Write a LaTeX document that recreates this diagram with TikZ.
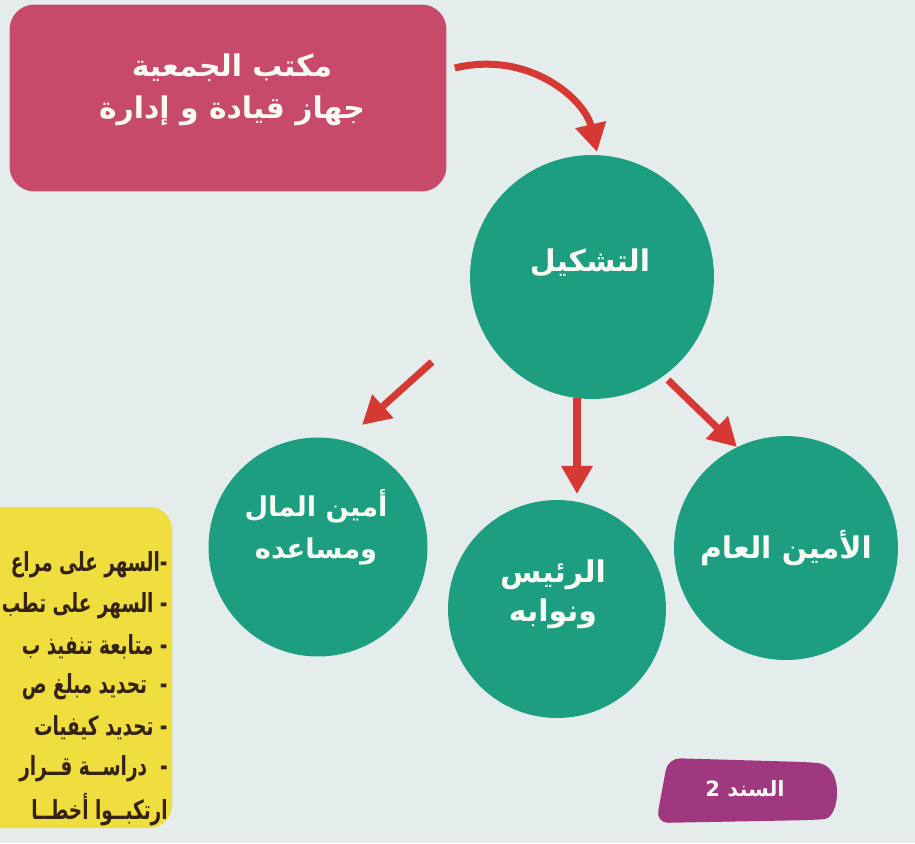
\documentclass[tikz,border=0pt]{standalone}
\usepackage{fontspec}
\usepackage{xcolor}
\usetikzlibrary{arrows.meta}
\TeXXeTstate=1
\newfontfamily\arabicfont[Script=Arabic]{DejaVu Sans}
\definecolor{fon}{RGB}{228,237,235}
\definecolor{rose}{RGB}{199,74,107}
\definecolor{zelen}{RGB}{30,158,128}
\definecolor{krasn}{RGB}{214,56,52}
\definecolor{zhelt}{RGB}{240,222,62}
\definecolor{tagc}{RGB}{160,56,128}
\definecolor{belyj}{RGB}{246,250,242}
\definecolor{tekst}{RGB}{52,34,22}
\newcommand{\uzko}[1]{\scalebox{0.7}[1]{\beginR #1\endR}}
\tikzset{
  bubble/.style={circle, fill=zelen, inner sep=0pt, minimum size=#1},
  lbl/.style={text=belyj, align=center, inner sep=0pt, font=\arabicfont\bfseries\fontsize{17}{22}\selectfont},
  task/.style={anchor=east, text=tekst, inner sep=0pt, font=\arabicfont\bfseries\fontsize{15}{18}\selectfont},
  redarrow/.style={draw=krasn, line width=4pt, -{Triangle[width=17pt,length=16pt]}}
}
\begin{document}
\begin{tikzpicture}[x=0.02cm, y=-0.02cm]
		% фон
		\useasboundingbox (0,0) rectangle (915,843);
		\fill[fon] (0,0) rectangle (915,843);
		\clip (0,0) rectangle (915,843);
		% блоки
		\node[fill=rose, rounded corners=0.5cm, minimum width=8.74cm, minimum height=3.74cm] (office) at (228,98) {};
		\fill[zhelt, rounded corners=0.45cm] (-60,507) rectangle (172,828);
		\fill[tagc, rounded corners=7pt] (668,758) -- (805,762) .. controls (845,765) and (840,818) .. (812,820) -- (656,823) -- cycle;
		% круги
		\node[bubble=4.88cm] (tashkil) at (592,277) {};
		\node[bubble=4.38cm] (amin) at (318,547) {};
		\node[bubble=4.36cm] (raees) at (557,609) {};
		\node[bubble=4.48cm] (ameen) at (786,548) {};
		% стрелки
		\draw[redarrow] ([shift={(8,-30)}]office.east) .. controls +(75,-18) and +(-12,-52) .. ([shift={(5,-125)}]tashkil.center);
		\draw[redarrow] ([shift={(-160,85)}]tashkil.center) -- ([shift={(44,-122)}]amin.center);
		\draw[redarrow] ([shift={(-15,121)}]tashkil.center) -- ([shift={(20,-115)}]raees.center);
		\draw[redarrow] ([shift={(76,103)}]tashkil.center) -- ([shift={(-49,-101)}]ameen.center);
		% подписи
		\node[lbl, font=\arabicfont\bfseries\fontsize{17}{24}\selectfont] (officeT) at (232,90) {\beginR مكتب الجمعية\endR\\\beginR جهاز قيادة و إدارة\endR};
		\node[lbl] (tashkilT) at (590,263) {\beginR التشكيل\endR};
		\node[lbl, font=\arabicfont\bfseries\fontsize{15.5}{24}\selectfont] (aminT) at (316,527) {\beginR أمين المال\endR\\\beginR ومساعده\endR};
		\node[lbl] (raeesT) at (553,594) {\beginR الرئيس\endR\\\beginR ونوابه\endR};
		\node[lbl] (ameenT) at (786,548) {\beginR الأمين العام\endR};
		\node[lbl, font=\arabicfont\bfseries\fontsize{12}{14}\selectfont] (tag) at (745,789) {\beginR السند 2\endR};
		% список
		\node[task] (t1) at (168,565) {\uzko{-\kern0ptالسهر على مراع}};
		\node[task] (t2) at (168,606) {\uzko{- السهر على تطب}};
		\node[task] (t3) at (168,647) {\uzko{- متابعة تنفيذ ب}};
		\node[task] (t4) at (168,687) {\uzko{- \ تحديد مبلغ ص}};
		\node[task] (t5) at (168,728) {\uzko{- تحديد كيفيات}};
		\node[task] (t6) at (168,769) {\uzko{- \ دراســة قــرار}};
		\node[task] (t7) at (168,810) {\uzko{ارتكبــوا أخطــا}};
\end{tikzpicture}
\end{document}
